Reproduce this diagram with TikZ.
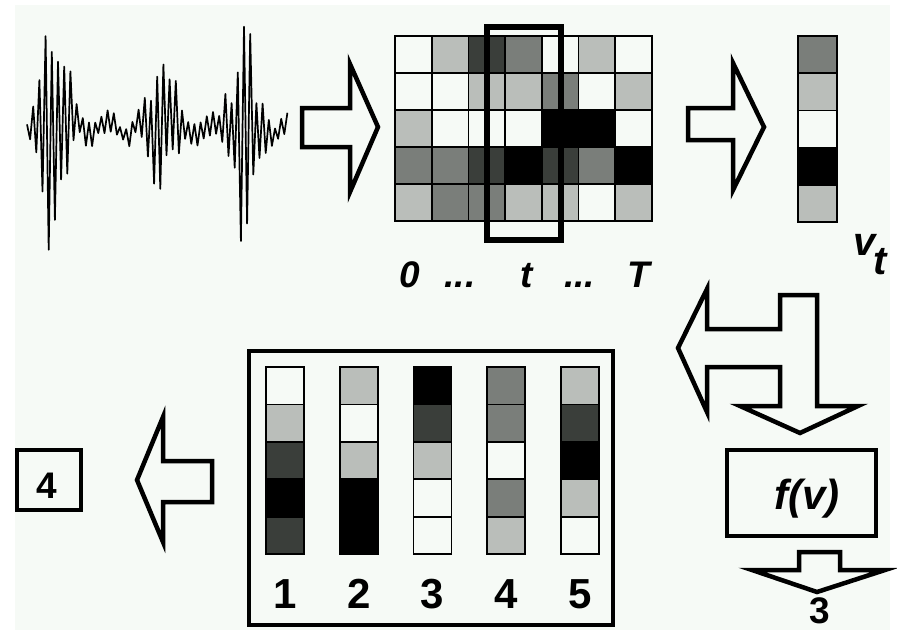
\documentclass[tikz,border=0pt]{standalone}
\usepackage{fontspec}
\setmainfont{Liberation Sans}
\definecolor{cW}{RGB}{246,250,246}
\definecolor{cL}{RGB}{186,190,186}
\definecolor{cM}{RGB}{122,126,122}
\definecolor{cD}{RGB}{58,62,58}
\definecolor{cK}{RGB}{0,0,0}
\begin{document}
\begin{tikzpicture}[x=1pt,y=-1pt,
    cellbox/.style={draw=black,line width=1.8pt},
    hollow/.style={draw=black,fill=cW,line width=4.5pt,line join=miter},
    framebox/.style={draw=black,line width=4pt,fill=cW,inner sep=0pt},
    num/.style={anchor=base,font=\fontsize{42}{42}\selectfont\bfseries},
    tlbl/.style={anchor=base,font=\fontsize{37}{37}\selectfont\bfseries\itshape},
    declare function={wenv(\t)=12+132*exp(-((\t-55)/14)^2)+62*exp(-((\t-163)/15)^2)+110*exp(-((\t-243)/14)^2);
      wrnd(\i)=abs(sin(mod(\i*\i,97)*53));}]
    \useasboundingbox (0,0) rectangle (897,630);
    \fill[white] (0,0) rectangle (897,630);
    \fill[cW] (15,5) rectangle (890,630);
    % signal
    \draw[line width=1.7pt,line join=round] plot[domain=0:84, samples=85] ({27+3.1*\x}, {128-wenv(27+3.1*\x)*cos(180*\x)*(0.25+0.75*wrnd(\x))-7*sin(31*\x)});
    % spectrogram
    \foreach \row [count=\r from 0] in {{W,L,D,M,W,L,W},{W,W,L,L,M,W,L},{L,W,W,W,K,K,W},{M,M,D,K,D,M,K},{L,M,M,L,L,W,L}}
      \foreach \c [count=\k from 0] in \row
        \draw[cellbox,fill=c\c] (395+\k*36.7,36+\r*37) rectangle ++(36.7,37);
    \draw[line width=6pt] (487,27) rectangle (561,240);
    \node[tlbl] (t0) at (409.5,287) {0};
    \node[tlbl] (d1) at (460,287) {...};
    \node[tlbl] (tt) at (527,287) {t};
    \node[tlbl] (d2) at (579.5,287) {...};
    \node[tlbl] (tT) at (638.5,287) {T};
    % frame vector
    \foreach \c [count=\r from 0] in {M,L,W,K,L}
      \draw[cellbox,fill=c\c] (798,36+\r*37.2) rectangle ++(39,37.2);
    \node[anchor=base west,inner sep=0pt,font=\fontsize{40}{40}\selectfont\bfseries\itshape] (vt) at (853,255) {v\kern-2pt\raisebox{-19pt}{t}};
    % arrows
    \draw[hollow] (302,108) -- (350,108) -- (350,64) -- (378,127) -- (350,192) -- (350,147) -- (302,147) -- cycle;
    \draw[hollow] (688,108) -- (733,108) -- (733,63) -- (764,127) -- (733,190) -- (733,140) -- (688,140) -- cycle;
    \draw[hollow] (707,289) -- (707,329) -- (780,329) -- (780,295) -- (817,295) -- (817,406) -- (858,406) -- (800,433) -- (740,406) -- (780,406) -- (780,367) -- (707,367) -- (707,412) -- (678,348) -- cycle;
    \draw[hollow] (212,461) -- (163,461) -- (163,417) -- (137,480) -- (163,542) -- (163,502) -- (212,502) -- cycle;
    % classifier
    \node[framebox,minimum width=149pt,minimum height=86pt] (fbox) at (801.5,493) {};
    \node[anchor=base,font=\fontsize{42}{42}\selectfont\bfseries\itshape] (fv) at (807,509) {f(v)};
    \draw[hollow] (799,552) -- (840,552) -- (840,570) -- (885,570) -- (817,592) -- (752,570) -- (799,570) -- cycle;
    \node[num,font=\fontsize{37}{37}\selectfont\bfseries] (out3) at (820,623) {3};
    % codebook
    \node[framebox,minimum width=364pt,minimum height=274pt] (cbox) at (431,488) {};
    \foreach \col [count=\k from 0] in {{W,L,D,K,D},{L,W,L,K,K},{K,D,L,W,W},{M,M,W,M,L},{L,D,K,L,W}}
      \foreach \c [count=\r from 0] in \col
        \draw[cellbox,fill=c\c] (266+\k*73.75,367+\r*37.4) rectangle ++(38,37.4);
    \foreach \k in {1,...,5}
      \node[num] (n\k) at (285+\k*73.75-73.75,608) {\k};
    % result
    \node[framebox,minimum width=64pt,minimum height=60pt] (res) at (49,480) {};
    \node[num,font=\fontsize{37}{37}\selectfont\bfseries] (out4) at (47,498) {4};
\end{tikzpicture}
\end{document}
